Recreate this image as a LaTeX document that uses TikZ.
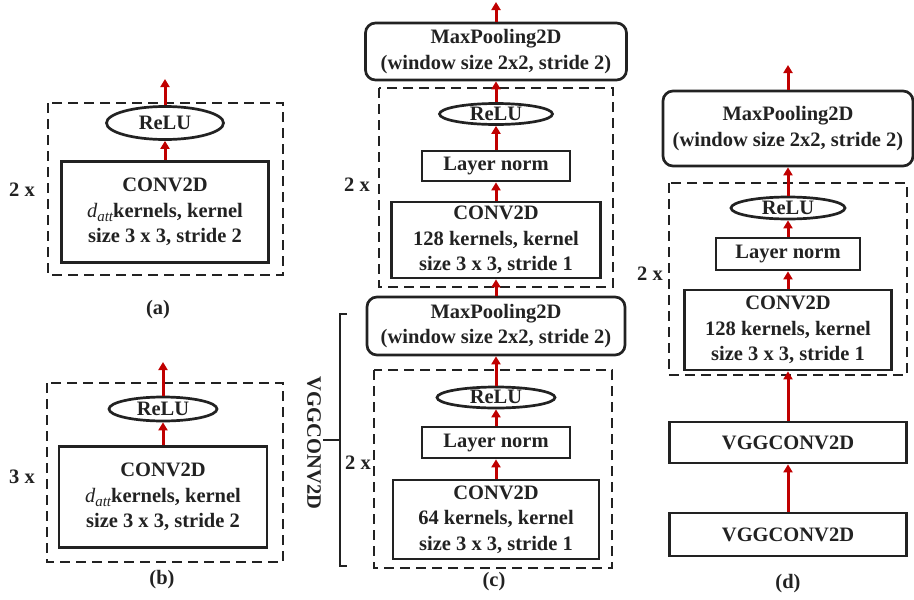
\documentclass[tikz,border=0pt]{standalone}
\usepackage{fontspec}
\setmainfont{Liberation Serif}
\usetikzlibrary{arrows.meta,shapes.geometric}

\definecolor{arrred}{RGB}{192,0,0}
\definecolor{ink}{RGB}{34,34,34}

\tikzset{
  txt/.style={font=\fontsize{20.5}{25.5}\selectfont\bfseries, text=ink, inner sep=0pt},
  blk/.style={txt, draw=ink, line width=2.7pt, align=center},
  pool/.style={blk, rounded corners=10pt},
  relu/.style={blk, ellipse, text height=13pt, text depth=1pt},
  dashbox/.style={draw=ink, line width=2.7pt, dash pattern=on 10pt off 6pt},
  arr/.style={draw=arrred, line width=3pt, -{Triangle[length=8pt,width=9pt]}},
}
\newcommand{\datt}{{\mdseries\itshape d}\raisebox{-4pt}{\fontsize{15}{15}\selectfont\mdseries\itshape att}}

\begin{document}
\begin{tikzpicture}[x=1pt,y=-1pt]
    \useasboundingbox (0,0) rectangle (914,600);
    % (a)
    \draw[dashbox] (48,103) rectangle (283,275);
    \node[relu, minimum width=117pt, minimum height=33pt] (reluA) at (165,123) {ReLU};
    \node[blk, minimum width=207pt, minimum height=101pt] (convA) at (165,212) {CONV2D\\ \datt kernels, kernel\\ size 3 x 3, stride 2};
    \coordinate (outA) at (165,79);
    \draw[arr] (convA) -- (reluA);
    \draw[arr] (reluA) -- (outA);
    \node[txt] (repA) at (22,190) {2 x};
    \node[txt] (capA) at (158,310) {(a)};
    % (b)
    \draw[dashbox] (47,383) rectangle (283,562);
    \node[relu, minimum width=108pt, minimum height=24pt] (reluB) at (163,409) {ReLU};
    \node[blk, minimum width=208pt, minimum height=101pt] (convB) at (163,497) {CONV2D\\ \datt kernels, kernel\\ size 3 x 3, stride 2};
    \coordinate (outB) at (163,362);
    \draw[arr] (convB) -- (reluB);
    \draw[arr] (reluB) -- (outB);
    \node[txt] (repB) at (22,477) {3 x};
    \node[txt] (capB) at (162,580) {(b)};
    % (c)
    \node[pool, minimum width=261pt, minimum height=57pt] (poolC1) at (496,51.5) {MaxPooling2D\\ (window size 2x2, stride 2)};
    \draw[dashbox] (379,88) rectangle (613,287);
    \node[relu, minimum width=113pt, minimum height=21pt] (reluC1) at (496,114) {ReLU};
    \node[blk, minimum width=148pt, minimum height=30pt] (lnC1) at (496,166) {Layer norm};
    \node[blk, minimum width=209pt, minimum height=76pt] (convC1) at (496,240) {CONV2D\\ 128 kernels, kernel\\ size 3 x 3, stride 1};
    \node[txt] (repC1) at (357,185) {2 x};
    \node[pool, minimum width=258pt, minimum height=58pt] (poolC2) at (496,326) {MaxPooling2D\\ (window size 2x2, stride 2)};
    \draw[dashbox] (374,370) rectangle (612,568);
    \node[relu, minimum width=118pt, minimum height=21pt] (reluC2) at (496,397.5) {ReLU};
    \node[blk, minimum width=148pt, minimum height=31pt] (lnC2) at (496,442.5) {Layer norm};
    \node[blk, minimum width=206pt, minimum height=79pt] (convC2) at (496,519.5) {CONV2D\\ 64 kernels, kernel\\ size 3 x 3, stride 1};
    \node[txt] (repC2) at (358,463) {2 x};
    \coordinate (outC) at (496,2);
    \draw[arr] (convC2) -- (lnC2);
    \draw[arr] (lnC2) -- (reluC2);
    \draw[arr] (reluC2) -- (poolC2);
    \draw[arr] (poolC2) -- (convC1);
    \draw[arr] (convC1) -- (lnC1);
    \draw[arr] (lnC1) -- (reluC1);
    \draw[arr] (reluC1) -- (poolC1);
    \draw[arr] (poolC1) -- (outC);
    \draw[draw=ink, line width=2.7pt] (347,314) -- (340,314) -- (340,566) -- (347,566);
    \draw[draw=ink, line width=2.7pt] (340,440) -- (323,440);
    \node[txt, rotate=-90] (vggC) at (314,443) {VGGCONV2D};
    \node[txt] (capC) at (494,582) {(c)};
    % (d)
    \node[pool, minimum width=250pt, minimum height=75pt] (poolD) at (788,128.5) {MaxPooling2D\\ (window size 2x2, stride 2)};
    \draw[dashbox] (669,183) rectangle (907,375);
    \node[relu, minimum width=114pt, minimum height=22pt] (reluD) at (788,208) {ReLU};
    \node[blk, minimum width=144pt, minimum height=32pt] (lnD) at (788,254) {Layer norm};
    \node[blk, minimum width=207pt, minimum height=80pt] (convD) at (788,330) {CONV2D\\ 128 kernels, kernel\\ size 3 x 3, stride 1};
    \node[txt] (repD) at (650,274) {2 x};
    \node[blk, minimum width=237pt, minimum height=41pt] (vggD1) at (788,442.5) {VGGCONV2D};
    \node[blk, minimum width=237pt, minimum height=43pt] (vggD2) at (788,534.5) {VGGCONV2D};
    \coordinate (outD) at (788,65);
    \draw[arr] (vggD2) -- (vggD1);
    \draw[arr] (vggD1) -- (convD);
    \draw[arr] (convD) -- (lnD);
    \draw[arr] (lnD) -- (reluD);
    \draw[arr] (reluD) -- (poolD);
    \draw[arr] (poolD) -- (outD);
    \node[txt] (capD) at (788,584) {(d)};
\end{tikzpicture}
\end{document}
